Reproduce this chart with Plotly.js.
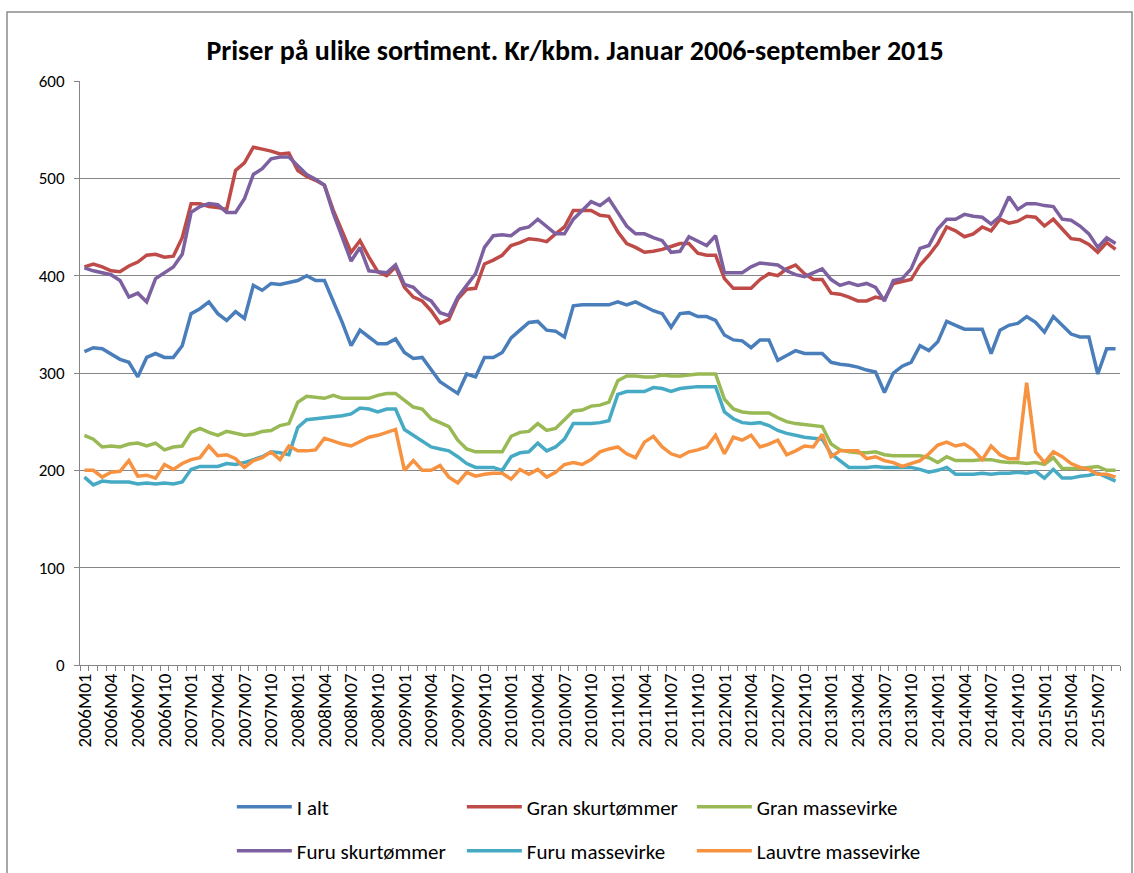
<!DOCTYPE html>
<html>
<head>
<meta charset="utf-8">
<script src="https://cdn.plot.ly/plotly-3.0.1.min.js"></script>
<style>
  html, body { margin: 0; padding: 0; background: #ffffff; }
  #chart { width: 1134px; height: 873px; }
</style>
</head>
<body>
<div id="chart"></div>
<script>
// Months Jan 2006 - Sep 2015 (category labels)
const years = [2006, 2007, 2008, 2009, 2010, 2011, 2012, 2013, 2014, 2015];
const months = ["01","02","03","04","05","06","07","08","09","10","11","12"];
const categories = [];
years.forEach(function (y) {
  months.forEach(function (m) {
    if (y === 2015 && parseInt(m, 10) > 9) return;
    categories.push(y + "M" + m);
  });
});

const iAlt = [322,326,325,319,314,311,296,316,320,316,316,328,361,366,373,361,354,363,356,390,385,392,391,393,
  395,400,395,395,374,352,328,344,337,330,330,335,321,315,316,303,291,285,279,299,296,316,316,321,
  336,344,352,353,344,343,337,369,370,370,370,370,373,370,373,368,364,361,347,361,362,358,358,354,
  339,334,333,326,334,334,313,318,323,320,320,320,311,309,308,306,303,301,280,300,307,311,328,323,
  332,353,349,345,345,345,320,344,349,351,358,352,342,358,349,340,337,337,299,325,325];

const granSkur = [409,412,409,405,404,410,414,421,422,419,420,439,474,474,471,470,468,508,516,532,530,528,525,526,
  508,502,498,493,467,446,424,436,419,404,400,409,388,378,374,364,351,355,376,386,387,412,416,421,
  431,434,438,437,435,443,450,467,467,467,462,461,445,433,429,424,425,427,430,433,433,423,421,421,
  397,387,387,387,396,402,400,407,411,402,396,396,382,381,378,374,374,378,376,392,394,396,411,421,
  433,450,446,440,443,450,446,458,454,456,461,460,451,458,448,438,437,432,424,434,427];

const granMasse = [236,232,224,225,224,227,228,225,228,221,224,225,239,243,239,236,240,238,236,237,240,241,246,248,
  270,276,275,274,277,274,274,274,274,277,279,279,272,265,263,253,249,245,231,222,219,219,219,219,
  235,239,240,248,241,243,252,261,262,266,267,270,292,297,297,296,296,298,297,297,298,299,299,299,
  273,263,260,259,259,259,254,250,248,247,246,245,227,221,219,218,218,219,216,215,215,215,215,213,
  208,214,210,210,210,211,211,209,208,208,207,208,206,213,202,202,202,203,204,200,200];

const furuSkur = [408,405,403,401,395,378,382,373,397,403,409,422,465,471,474,473,465,465,479,504,510,520,522,522,
  513,504,499,493,464,439,415,429,405,404,403,411,391,388,379,374,362,359,378,390,402,429,441,442,
  441,448,450,458,450,443,443,458,467,476,472,479,465,451,443,443,439,436,424,425,440,435,431,441,
  403,403,403,409,413,412,411,405,401,399,403,407,396,390,393,390,392,388,374,395,397,407,428,431,
  448,458,458,463,461,460,453,461,481,468,474,474,472,471,458,457,451,443,429,439,433];

const furuMasse = [193,185,189,188,188,188,186,187,186,187,186,188,201,204,204,204,207,206,208,211,214,219,218,216,
  244,252,253,254,255,256,258,264,263,260,263,263,242,236,231,224,222,220,214,207,203,203,203,200,
  214,218,219,228,220,224,232,248,248,248,249,251,278,281,281,281,285,284,281,284,285,286,286,286,
  260,253,249,248,249,246,241,238,236,234,233,232,217,210,203,203,203,204,203,203,203,203,201,198,
  200,203,196,196,196,197,196,197,197,198,197,199,192,201,192,192,194,195,197,193,189];

const lauvMasse = [200,200,193,198,199,210,194,195,192,206,201,207,211,213,225,215,216,212,203,210,213,219,211,225,
  220,220,221,233,230,227,225,230,234,236,239,242,200,210,200,200,205,193,187,198,194,196,197,197,
  191,201,196,201,193,198,206,208,206,211,219,222,224,217,213,229,235,224,217,214,219,221,224,236,
  217,234,231,236,224,227,231,216,220,225,224,237,214,220,220,220,212,214,210,208,204,207,210,217,
  226,229,225,227,221,211,225,216,212,212,290,219,208,219,214,207,203,201,196,196,193];

const seriesNames = ["I alt", "Gran skurtømmer", "Gran massevirke", "Furu skurtømmer", "Furu massevirke", "Lauvtre massevirke"];
const seriesValues = [iAlt, granSkur, granMasse, furuSkur, furuMasse, lauvMasse];
const seriesColors = ["#4a7ebb", "#be4b48", "#98b954", "#7d60a0", "#46aac5", "#f69240"];
const seriesLegend = ["legend", "legend", "legend", "legend2", "legend2", "legend2"];

const tickLabels = categories.map(function (c, i) { return i % 3 === 0 ? c : ""; });

const FONT = "Carlito, Lato, 'Liberation Sans', sans-serif";

const traces = seriesNames.map(function (name, k) {
  return {
    type: "scatter",
    mode: "lines",
    name: name,
    x: categories,
    y: seriesValues[k],
    line: { color: seriesColors[k], width: 3.5 },
    legend: seriesLegend[k],
    hoverinfo: "x+y+name"
  };
});

const legendBase = {
  orientation: "h",
  x: 0.146,
  xanchor: "left",
  yanchor: "middle",
  entrywidth: 160,
  entrywidthmode: "pixels",
  itemwidth: 55,
  font: { family: FONT, size: 21, color: "#000000" },
  bgcolor: "rgba(0,0,0,0)",
  traceorder: "normal"
};

const layout = {
  width: 1134,
  height: 873,
  margin: { l: 80, r: 14, t: 81, b: 208, autoexpand: false },
  paper_bgcolor: "#ffffff",
  plot_bgcolor: "#ffffff",
  font: { family: FONT, color: "#000000" },
  title: {
    text: "<b>Priser på ulike sortiment. Kr/kbm. Januar 2006-september 2015</b>",
    font: { family: FONT, size: 28, color: "#000000" },
    x: 0.476, xref: "paper", xanchor: "center",
    y: 1 - 50 / 873, yref: "container", yanchor: "middle"
  },
  xaxis: {
    type: "category",
    range: [-0.5, categories.length - 0.5],
    tickmode: "array",
    tickvals: categories,
    ticktext: tickLabels,
    tickson: "boundaries",
    ticks: "outside",
    ticklen: 5,
    tickcolor: "#868686",
    tickangle: -90,
    tickfont: { family: FONT, size: 19, color: "#000000" },
    showgrid: false,
    showline: true,
    linecolor: "#868686",
    linewidth: 1,
    zeroline: false,
    fixedrange: true
  },
  yaxis: {
    range: [0, 600],
    tickmode: "linear",
    tick0: 0,
    dtick: 100,
    ticks: "outside",
    ticklen: 5,
    tickcolor: "#868686",
    tickfont: { family: FONT, size: 17, color: "#000000" },
    ticklabelstandoff: 6,
    showgrid: true,
    gridcolor: "#868686",
    gridwidth: 1,
    showline: true,
    linecolor: "#868686",
    linewidth: 1,
    zeroline: false,
    fixedrange: true
  },
  legend: Object.assign({}, legendBase, { y: (665 - 807) / 584 }),
  legend2: Object.assign({}, legendBase, { y: (665 - 851) / 584 }),
  shapes: [{
    type: "rect",
    xref: "paper", yref: "paper",
    x0: (7 - 80) / 1040, x1: (1132 - 80) / 1040,
    y0: (665 - 880) / 584, y1: (665 - 12) / 584,
    line: { color: "#8c8c8c", width: 1.5 },
    fillcolor: "rgba(0,0,0,0)",
    layer: "above"
  }]
};

Plotly.newPlot("chart", traces, layout, { displayModeBar: false, staticPlot: true });
</script>
</body>
</html>
